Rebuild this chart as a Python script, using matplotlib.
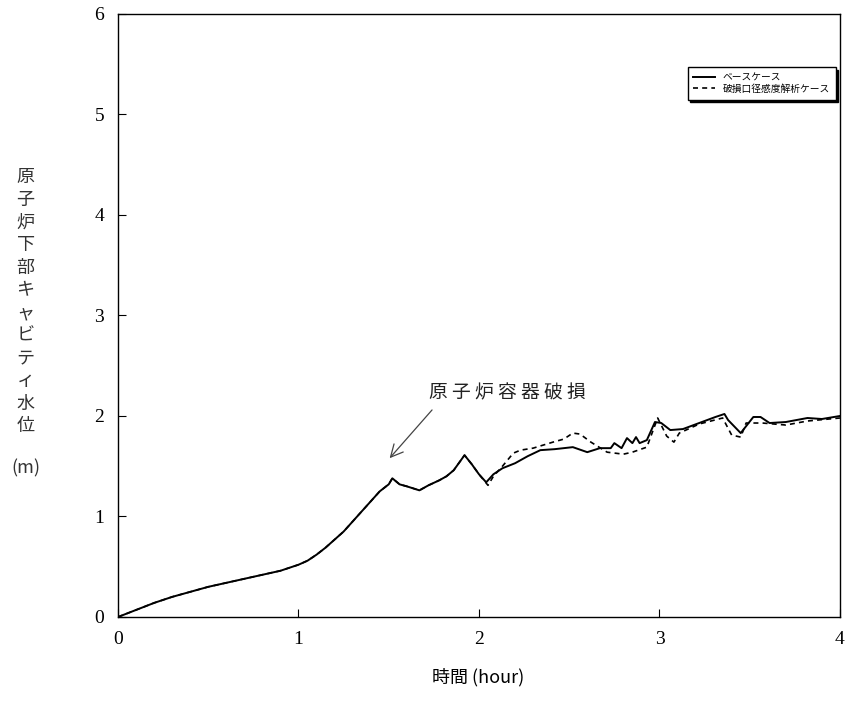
import matplotlib
matplotlib.use("Agg")
import matplotlib.pyplot as plt

# base case
t_base = [0, 0.1, 0.2, 0.3, 0.4, 0.5, 0.6, 0.7, 0.8, 0.9, 1.0, 1.05, 1.1, 1.15,
          1.2, 1.25, 1.3, 1.35, 1.4, 1.45, 1.5, 1.52, 1.56, 1.6, 1.67, 1.72,
          1.78, 1.82, 1.86, 1.92, 1.96, 2.0, 2.04, 2.08, 2.13, 2.2, 2.27, 2.34,
          2.42, 2.52, 2.6, 2.67, 2.73, 2.75, 2.79, 2.82, 2.85, 2.87, 2.89, 2.93,
          2.975, 3.01, 3.06, 3.13, 3.22, 3.31, 3.36, 3.38, 3.45, 3.52, 3.56,
          3.61, 3.70, 3.82, 3.9, 4.0]
h_base = [0, 0.07, 0.14, 0.20, 0.25, 0.30, 0.34, 0.38, 0.42, 0.46, 0.52, 0.56,
          0.62, 0.69, 0.77, 0.85, 0.95, 1.05, 1.15, 1.25, 1.32, 1.38, 1.32,
          1.30, 1.26, 1.31, 1.36, 1.40, 1.46, 1.61, 1.52, 1.42, 1.34, 1.42,
          1.48, 1.53, 1.60, 1.66, 1.67, 1.69, 1.64, 1.68, 1.68, 1.73, 1.68,
          1.78, 1.73, 1.79, 1.73, 1.76, 1.94, 1.93, 1.86, 1.87, 1.93, 1.99,
          2.02, 1.96, 1.83, 1.99, 1.99, 1.93, 1.94, 1.98, 1.97, 2.0]

# break-size sensitivity case
t_sens = [0, 0.1, 0.2, 0.3, 0.4, 0.5, 0.6, 0.7, 0.8, 0.9, 1.0, 1.05, 1.1, 1.15,
          1.2, 1.25, 1.3, 1.35, 1.4, 1.45, 1.5, 1.52, 1.56, 1.6, 1.67, 1.72,
          1.78, 1.82, 1.86, 1.92, 1.96, 2.0, 2.05, 2.08, 2.13, 2.19, 2.23, 2.3,
          2.41, 2.47, 2.52, 2.56, 2.62, 2.71, 2.8, 2.85, 2.93, 2.99, 3.04, 3.08,
          3.11, 3.22, 3.35, 3.40, 3.45, 3.48, 3.57, 3.70, 3.82, 4.0]
h_sens = [0, 0.07, 0.14, 0.20, 0.25, 0.30, 0.34, 0.38, 0.42, 0.46, 0.52, 0.56,
          0.62, 0.69, 0.77, 0.85, 0.95, 1.05, 1.15, 1.25, 1.32, 1.38, 1.32,
          1.30, 1.26, 1.31, 1.36, 1.40, 1.46, 1.61, 1.52, 1.42, 1.31, 1.40,
          1.50, 1.63, 1.66, 1.68, 1.74, 1.77, 1.83, 1.82, 1.74, 1.64, 1.62,
          1.64, 1.69, 1.98, 1.80, 1.74, 1.83, 1.92, 1.98, 1.81, 1.79, 1.93,
          1.93, 1.91, 1.95, 1.98]

labels = ["ベースケース", "破損口径感度解析ケース"]
ylabel_chars = "原子炉下部キャビティ水位"
note = "原子炉容器破損"

jp = ["Noto Sans CJK JP", "DejaVu Sans"]
plt.rcParams["font.family"] = ["Liberation Serif", "Noto Sans CJK JP"]

fig = plt.figure(figsize=(8.5, 7.24), dpi=100)
ax = fig.add_axes([0.1388, 0.1478, 0.8494, 0.8329])

ax.plot(t_base, h_base, color="black", lw=1.4, label=labels[0])
ax.plot(t_sens, h_sens, color="black", lw=1.2, ls=(0, (3, 2.5)), label=labels[1])

ax.set_xlim(0, 4)
ax.set_ylim(0, 6)
ax.set_xticks([0, 1, 2, 3, 4])
ax.set_yticks([0, 1, 2, 3, 4, 5, 6])
ax.tick_params(direction="in", length=6, labelsize=14, pad=10)
for sp in ax.spines.values():
    sp.set_linewidth(1.0)

leg = ax.legend(loc="upper right", bbox_to_anchor=(0.994, 0.912), borderaxespad=0,
                prop={"family": jp, "size": 7}, frameon=True, fancybox=False,
                shadow={"color": "black", "alpha": 1},
                borderpad=0.6, handlelength=2.2, labelspacing=0.1)
leg.get_frame().set_edgecolor("black")
leg.get_frame().set_linewidth(1.0)

# arrow to vessel failure point
ax.annotate("", xy=(1.505, 1.58), xytext=(1.74, 2.06),
            arrowprops=dict(arrowstyle="->", color="#444444", lw=0.9,
                            shrinkA=0, shrinkB=0, mutation_scale=22))
ax.text(2.16, 2.23, " ".join(note), fontfamily=jp, fontsize=13.5,
        ha="center", va="center", color="#222222")

fig.text(0.03, 0.583, "\n".join(ylabel_chars), fontfamily=jp, fontsize=13,
         ha="center", va="center", linespacing=1.33, color="#333333")
fig.text(0.03, 0.353, "(m)", fontfamily=jp, fontsize=13, ha="center", va="center",
         color="#333333")
fig.text(0.563, 0.065, "時間 (hour)", fontfamily=jp, fontsize=13, ha="center",
         va="center")

fig.savefig("out.png", dpi=100)
